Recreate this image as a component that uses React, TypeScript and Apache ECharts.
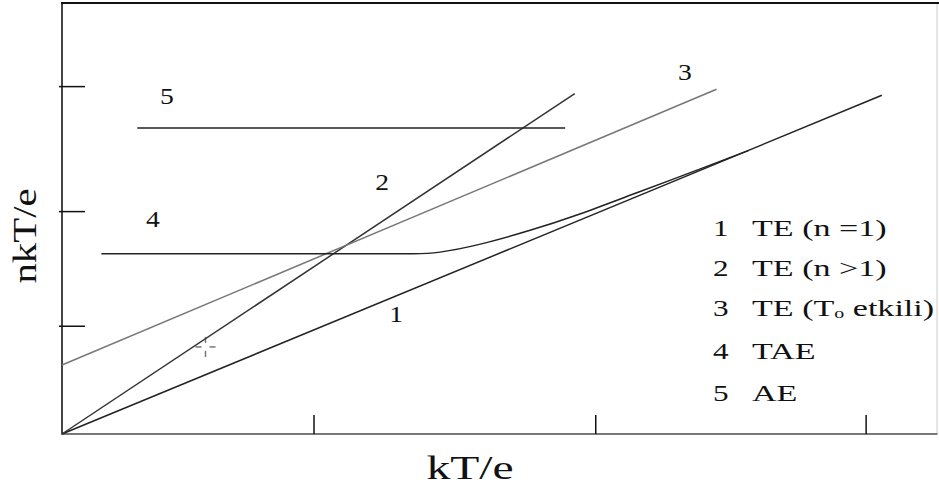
import React, { useEffect, useRef } from "react";
import * as echarts from "echarts";

// Lines (kT/e, nkT/e)
const line1 = [[0, 0], [9.37, 3.93]];
const line2 = [[0, 0], [5.86, 3.95]];
const line3 = [[0, 0.8], [7.48, 4.0]];
const line4 = [[0.45, 2.09], [4.01, 2.09], [4.32, 2.11], [4.77, 2.2], [5.34, 2.36], [5.91, 2.55], [6.6, 2.81], [7.28, 3.07], [7.85, 3.29]];
const line5 = [[0.86, 3.55], [5.75, 3.55]];

const xTicks = [2.88, 6.1, 9.19];
const yTicks = [1.25, 2.58, 4.03];

const lineLabels = ["1", "2", "3", "4", "5"];
const labelX = [3.82, 3.66, 7.12, 1.04, 1.2];
const labelY = [1.39, 2.92, 4.2, 2.49, 3.92];

const crossPoint = [[1.64, 1.01]];

const legendNums = ["1", "2", "3", "4", "5"];
const legendTexts = ["TE (n =1)", "TE (n >1)", "TE (T{sub|o} etkili)", "TAE", "AE"];
const legendY = [228, 268, 308, 351, 393];

const xTitle = "kT/e";
const yTitle = "nkT/e";

const FONT = "'Liberation Serif', 'Times New Roman', serif";

export default function App() {
  const ref = useRef<HTMLDivElement>(null);
  useEffect(() => {
    if (!ref.current) return;
    const chart = echarts.init(ref.current, null, { renderer: "svg" });
    const lineSeries = (data: number[][], color: string, smooth = false) => ({
      type: "line",
      data,
      showSymbol: false,
      symbol: "none",
      smooth: smooth ? 0.3 : false,
      lineStyle: { color, width: 1.5 },
      silent: true,
    });
    const legendGraphics: any[] = [];
    legendNums.forEach((n, i) => {
      legendGraphics.push({
        type: "text",
        x: 713,
        y: legendY[i],
        scaleX: 1.3,
        style: { text: n, fontFamily: FONT, fontSize: 24, fill: "#111", verticalAlign: "middle", align: "left" },
      });
      legendGraphics.push({
        type: "text",
        x: 752,
        y: legendY[i],
        scaleX: 1.42,
        style: {
          text: legendTexts[i],
          fontFamily: FONT,
          fontSize: 24,
          fill: "#111",
          verticalAlign: "middle",
          align: "left",
          rich: {
            sub: { fontFamily: FONT, fontSize: 14, fill: "#111", verticalAlign: "bottom", padding: [12, 0, 0, 0] },
          },
        },
      });
    });
    chart.setOption({
      animation: false,
      backgroundColor: "#fff",
      grid: { left: 62, right: 2, top: 3, bottom: 59, containLabel: false, show: true, borderColor: "#ccc", borderWidth: 1 },
      xAxis: {
        type: "value", min: 0, max: 10,
        axisLine: { show: true, onZero: false, lineStyle: { color: "#555", width: 1.5 } },
        axisTick: { show: false }, axisLabel: { show: false }, splitLine: { show: false },
      },
      yAxis: {
        type: "value", min: 0, max: 5,
        axisLine: { show: true, onZero: false, lineStyle: { color: "#111", width: 1.5 } },
        axisTick: { show: false }, axisLabel: { show: false }, splitLine: { show: false },
      },
      series: [
        lineSeries(line1, "#222"),
        lineSeries(line2, "#333"),
        lineSeries(line3, "#777"),
        lineSeries(line4, "#222", true),
        lineSeries(line5, "#222"),
        {
          type: "custom",
          silent: true,
          data: xTicks.map((v) => [v, 0]),
          encode: { x: 0, y: 1 },
          renderItem: (_p: any, api: any) => {
            const p = api.coord([api.value(0), 0]);
            return { type: "line", shape: { x1: p[0], y1: p[1], x2: p[0], y2: p[1] - 19 }, style: { stroke: "#111", lineWidth: 1.5 } };
          },
        },
        {
          type: "custom",
          silent: true,
          data: yTicks.map((v) => [0, v]),
          encode: { x: 0, y: 1 },
          renderItem: (_p: any, api: any) => {
            const p = api.coord([0, api.value(1)]);
            return { type: "line", shape: { x1: p[0] - 3, y1: p[1], x2: p[0] + 23, y2: p[1] }, style: { stroke: "#111", lineWidth: 1.5 } };
          },
        },
        {
          type: "custom",
          silent: true,
          data: crossPoint,
          encode: { x: 0, y: 1 },
          renderItem: (_p: any, api: any) => {
            const p = api.coord([api.value(0), api.value(1)]);
            const st = { stroke: "#777", lineWidth: 1.5 };
            return {
              type: "group",
              children: [
                { type: "line", shape: { x1: p[0] - 10, y1: p[1], x2: p[0] - 4, y2: p[1] }, style: st },
                { type: "line", shape: { x1: p[0] + 4, y1: p[1], x2: p[0] + 10, y2: p[1] }, style: st },
                { type: "line", shape: { x1: p[0], y1: p[1] - 10, x2: p[0], y2: p[1] - 4 }, style: st },
                { type: "line", shape: { x1: p[0], y1: p[1] + 4, x2: p[0], y2: p[1] + 10 }, style: st },
              ],
            };
          },
        },
        {
          type: "custom",
          silent: true,
          data: lineLabels.map((l, i) => [labelX[i], labelY[i], l]),
          encode: { x: 0, y: 1 },
          renderItem: (params: any, api: any) => {
            const p = api.coord([api.value(0), api.value(1)]);
            return {
              type: "text",
              x: p[0],
              y: p[1],
              scaleX: 1.15,
              style: { text: lineLabels[params.dataIndex], fontFamily: FONT, fontSize: 24, fill: "#111", align: "center", verticalAlign: "middle" },
            };
          },
        },
      ],
      graphic: [
        ...legendGraphics,
        {
          type: "line",
          z: 100,
          shape: { x1: 61, y1: 3, x2: 939, y2: 3 },
          style: { stroke: "#111", lineWidth: 2 },
          silent: true,
        },
        {
          type: "text",
          x: 470,
          y: 467,
          scaleX: 1.4,
          style: { text: xTitle, fontFamily: FONT, fontSize: 34, fill: "#111", align: "center", verticalAlign: "middle" },
        },
        {
          type: "text",
          x: 25,
          y: 236,
          rotation: Math.PI / 2,
          scaleX: 1.2,
          style: { text: yTitle, fontFamily: FONT, fontSize: 34, fill: "#111", align: "center", verticalAlign: "middle" },
        },
      ],
    });
    return () => chart.dispose();
  }, []);
  return <div ref={ref} style={{ position: "fixed", left: 0, top: 0, width: 939, height: 493 }} />;
}
